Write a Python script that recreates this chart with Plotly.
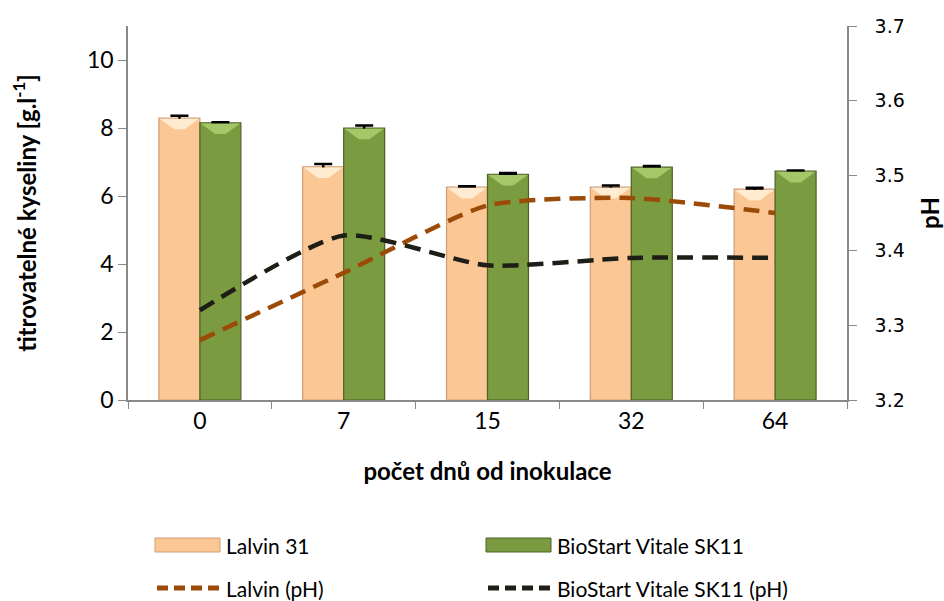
import plotly.graph_objects as go

# Days after inoculation
days = ["0", "7", "15", "32", "64"]

# Titratable acidity [g/l]
lalvin_acid = [8.29, 6.86, 6.26, 6.26, 6.20]
lalvin_acid_err = [0.07, 0.08, 0.03, 0.05, 0.04]
biostart_acid = [8.15, 8.00, 6.64, 6.85, 6.73]
biostart_acid_err = [0.02, 0.07, 0.04, 0.03, 0.02]

# pH
lalvin_ph = [3.28, 3.37, 3.46, 3.47, 3.45]
biostart_ph = [3.32, 3.42, 3.38, 3.39, 3.39]

bar_names = ["Lalvin 31", "BioStart Vitale SK11"]
line_names = ["Lalvin (pH)", "BioStart Vitale SK11 (pH)"]

PEACH = "#FBC795"
PEACH_TOP = "#FFEBCF"
PEACH_EDGE = "#D29C74"
GREEN = "#7B9B40"
GREEN_TOP = "#A6C768"
GREEN_EDGE = "#4C6224"
ORANGE_LINE = "#9B4A08"
DARK_LINE = "#1E1D16"
AXIS = "#898989"
FONT = "Lato"

BAR_W = 0.285          # bar width in category units
BEVEL_H = 0.33         # bevel face height in acid units
BEVEL_IN = 0.10        # bevel inset in category units

xpos = list(range(len(days)))

fig = go.Figure()


def add_bars(values, errors, name, offset, fill, top, edge):
    fig.add_trace(go.Bar(
        x=xpos, y=values, name=name, offset=offset, width=BAR_W,
        marker=dict(color=fill, line=dict(color=edge, width=1.2)),
        error_y=dict(type="data", array=errors, color="black",
                     thickness=2.5, width=9),
        showlegend=False,
    ))
    # lighter bevelled top face of each bar
    for xc, v in zip(xpos, values):
        x0 = xc + offset + 0.006
        x1 = x0 + BAR_W - 0.012
        fig.add_trace(go.Scatter(
            x=[x0, x1, x1 - BEVEL_IN, x0 + BEVEL_IN, x0],
            y=[v - 0.02, v - 0.02, v - BEVEL_H, v - BEVEL_H, v - 0.02],
            fill="toself", fillcolor=top, mode="lines",
            line=dict(width=0), hoverinfo="skip", showlegend=False,
        ))


add_bars(lalvin_acid, lalvin_acid_err, bar_names[0], -BAR_W,
         PEACH, PEACH_TOP, PEACH_EDGE)
add_bars(biostart_acid, biostart_acid_err, bar_names[1], 0.0,
         GREEN, GREEN_TOP, GREEN_EDGE)

fig.add_trace(go.Scatter(
    x=xpos, y=lalvin_ph, name=line_names[0], yaxis="y2", mode="lines",
    line=dict(color=ORANGE_LINE, width=4.5, dash="16px,9px",
              shape="spline", smoothing=0.6),
    showlegend=False,
))
fig.add_trace(go.Scatter(
    x=xpos, y=biostart_ph, name=line_names[1], yaxis="y2", mode="lines",
    line=dict(color=DARK_LINE, width=4.5, dash="16px,9px",
              shape="spline", smoothing=0.6),
    showlegend=False,
))

# Legend drawn in paper coordinates below the plot
shapes = []
annotations = []
pw = 944 - 128 - 97
ph = 601 - 26 - 201


def px_x(px):
    return (px - 128) / pw


def px_y(py):
    return (601 - 201 - py) / ph


legend_items = [
    ("bar", bar_names[0], PEACH, PEACH_EDGE, 155, 545),
    ("bar", bar_names[1], GREEN, GREEN_EDGE, 486, 545),
    ("line", line_names[0], ORANGE_LINE, None, 155, 588),
    ("line", line_names[1], DARK_LINE, None, 486, 588),
]
for kind, label, col, edge, x0, yc in legend_items:
    if kind == "bar":
        shapes.append(dict(type="rect", xref="paper", yref="paper",
                           x0=px_x(x0), x1=px_x(x0 + 65),
                           y0=px_y(yc + 7), y1=px_y(yc - 7),
                           fillcolor=col, line=dict(color=edge, width=1)))
    else:
        shapes.append(dict(type="line", xref="paper", yref="paper",
                           x0=px_x(x0 + 2), x1=px_x(x0 + 65),
                           y0=px_y(yc), y1=px_y(yc),
                           line=dict(color=col, width=5, dash="11px,6px")))
    annotations.append(dict(xref="paper", yref="paper", x=px_x(x0 + 69),
                            y=px_y(yc), text=label, showarrow=False,
                            xanchor="left", yanchor="middle",
                            font=dict(family=FONT, size=21, color="black")))

fig.update_layout(
    width=944, height=601,
    margin=dict(l=128, r=97, t=26, b=201, autoexpand=False),
    paper_bgcolor="white", plot_bgcolor="white",
    barmode="overlay",
    font=dict(family=FONT, size=23, color="black"),
    xaxis=dict(
        range=[-0.5, len(days) - 0.5], automargin=False,
        tickmode="array", tickvals=xpos, ticktext=days,
        showline=True, linecolor=AXIS, linewidth=1.5,
        ticks="", showgrid=False, zeroline=False,
        minor=dict(tickmode="linear", tick0=-0.5, dtick=1,
                   ticks="outside", ticklen=7, tickcolor=AXIS,
                   showgrid=False),
        tickfont=dict(size=23),
        title=dict(text="<b>počet dnů od inokulace</b>",
                   font=dict(size=24), standoff=30),
    ),
    yaxis=dict(
        range=[0, 11], tickvals=[0, 2, 4, 6, 8, 10], automargin=False,
        showline=True, linecolor=AXIS, linewidth=1.5,
        ticks="outside", ticklen=8, tickcolor=AXIS,
        showgrid=False, zeroline=False, tickfont=dict(size=23),
        title=dict(text="<b>titrovatelné kyseliny [g.l<sup>-1</sup>]</b>",
                   font=dict(size=24, weight="bold"), standoff=44),
    ),
    yaxis2=dict(
        overlaying="y", side="right", automargin=False,
        range=[3.2, 3.7], tickvals=[3.2, 3.3, 3.4, 3.5, 3.6, 3.7],
        tickformat=".1f",
        showline=True, linecolor=AXIS, linewidth=1.5,
        ticks="outside", ticklen=8, tickcolor=AXIS,
        ticklabelstandoff=14,
        showgrid=False, zeroline=False,
        tickfont=dict(family="DejaVu Sans", size=19),
        title=dict(text="<b>pH</b>", font=dict(family=FONT, size=24),
                   standoff=24),
    ),
    shapes=shapes,
    annotations=annotations,
)

fig.write_html("out.html")
